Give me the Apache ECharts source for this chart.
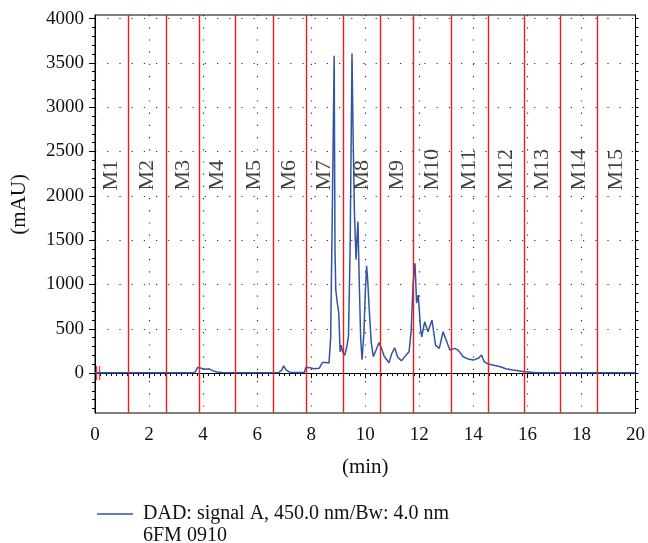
<!DOCTYPE html>
<html>
<head>
<meta charset="utf-8">
<script src="https://cdn.jsdelivr.net/npm/echarts@6/dist/echarts.min.js"></script>
<style>
  html, body { margin: 0; padding: 0; background: #fff; }
  #chart { width: 648px; height: 543px; }
</style>
</head>
<body>
<div id="chart"></div>
<script>
// retention time (min) and absorbance (mAU)
var times = [0, 1, 2, 3, 3.68, 3.74, 3.8, 3.9, 4.0, 4.1, 4.22, 4.35, 4.5, 4.7, 5.5, 6.5, 6.8, 6.9, 6.98, 7.06, 7.2, 7.5, 7.75, 7.8, 7.95, 8.1, 8.3, 8.42, 8.55, 8.66, 8.72, 8.78, 8.85, 8.88, 8.91, 8.97, 9.02, 9.07, 9.11, 9.16, 9.24, 9.32, 9.38, 9.44, 9.51, 9.55, 9.6, 9.66, 9.7, 9.73, 9.78, 9.83, 9.88, 9.95, 10.0, 10.05, 10.09, 10.15, 10.22, 10.3, 10.4, 10.51, 10.6, 10.7, 10.88, 10.98, 11.09, 11.2, 11.34, 11.5, 11.62, 11.7, 11.77, 11.84, 11.9, 11.96, 11.99, 12.05, 12.09, 12.2, 12.32, 12.47, 12.6, 12.74, 12.88, 12.97, 13.03, 13.13, 13.31, 13.44, 13.62, 13.8, 14.0, 14.2, 14.3, 14.4, 14.55, 14.8, 15.0, 15.2, 15.46, 15.9, 16.35, 18, 20];
var signal = [3, 3, 3, 3, 4, 30, 64, 58, 48, 44, 48, 28, 12, 6, 5, 5, 8, 30, 82, 40, 10, 6, 8, 65, 60, 50, 55, 120, 120, 115, 400, 1800, 3580, 1400, 938, 780, 678, 240, 316, 240, 200, 300, 420, 1400, 3605, 2700, 1800, 1280, 1550, 1710, 1000, 400, 150, 450, 900, 1210, 1050, 700, 350, 185, 260, 345, 280, 190, 117, 220, 286, 180, 140, 200, 240, 480, 1010, 1240, 790, 880, 750, 490, 410, 580, 467, 599, 316, 279, 467, 392, 410, 260, 279, 260, 184, 160, 147, 170, 205, 130, 102, 85, 72, 50, 34, 15, 5, 3, 3];

// fraction boundaries (red lines) and their names
var cuts = [1.22, 2.64, 3.87, 5.2, 6.58, 7.8, 9.18, 10.56, 11.77, 13.17, 14.55, 15.88, 17.23, 18.6];
var fractions = ['M1', 'M2', 'M3', 'M4', 'M5', 'M6', 'M7', 'M8', 'M9', 'M10', 'M11', 'M12', 'M13', 'M14', 'M15'];
var labelLevel = 2060;

// injection marks near t = 0
var injTimes = [0.06, 0.17];

var yTicks = [0, 500, 1000, 1500, 2000, 2500, 3000, 3500, 4000];
var yMinor = [];
for (var v = -400; v <= 4000; v += 100) yMinor.push(v);

var serif = '"Liberation Serif", "DejaVu Serif", serif';
var yMin = -450, yMax = 4040;

var chart = echarts.init(document.getElementById('chart'));

var edges = [0].concat(cuts).concat([20]);
var labelData = fractions.map(function (name, i) {
    return { name: name, value: [(edges[i] + edges[i + 1]) / 2, labelLevel] };
});

var injData = [];
injTimes.forEach(function (t) {
    injData.push([t, -80], [t, 80], [t, '-']);
});

var option = {
    backgroundColor: '#ffffff',
    animation: false,
    grid: {
        left: 95, right: 12, top: 15, bottom: 130,
        show: true, borderColor: '#000', borderWidth: 1
    },
    legend: {
        left: 92, top: 499,
        data: ['DAD: signal A, 450.0 nm/Bw: 4.0 nm'],
        icon: 'rect',
        itemWidth: 36, itemHeight: 1.5,
        textStyle: { fontFamily: serif, fontSize: 20, color: '#111', padding: [0, 0, 0, 5] }
    },
    xAxis: {
        type: 'value',
        min: 0, max: 20, interval: 2,
        name: '(min)',
        nameLocation: 'middle',
        nameGap: 44,
        nameTextStyle: { fontFamily: serif, fontSize: 21, color: '#111' },
        axisLine: { lineStyle: { color: '#000', width: 1 } },
        axisTick: { show: true, inside: false, length: 5, lineStyle: { color: '#000' } },
        minorTick: { show: true, splitNumber: 10, length: 3, lineStyle: { color: '#000' } },
        axisLabel: { fontFamily: serif, fontSize: 19, color: '#111', margin: 13 },
        splitLine: { show: true, lineStyle: { color: '#333', width: 1.2, type: [1.2, 11] } }
    },
    yAxis: [{
        type: 'value',
        min: yMin, max: yMax,
        axisLine: { show: true, lineStyle: { color: '#000' } },
        axisTick: { show: true, customValues: yTicks, length: 6, lineStyle: { color: '#000' } },
        axisLabel: {
            customValues: yTicks,
            formatter: function (val) { return String(val); },
            fontFamily: serif, fontSize: 19, color: '#111', margin: 11
        },
        splitLine: { show: true, lineStyle: { color: '#333', width: 1.2, type: [1.2, 11] } }
    }, {
        type: 'value',
        min: yMin, max: yMax,
        position: 'left',
        axisLine: { show: false },
        axisTick: { show: true, customValues: yMinor, length: 3, lineStyle: { color: '#000' } },
        axisLabel: { show: false },
        splitLine: { show: false }
    }, {
        type: 'value',
        min: yMin, max: yMax,
        position: 'right',
        axisLine: { show: true, lineStyle: { color: '#000' } },
        axisTick: { show: true, customValues: yMinor, length: 3, lineStyle: { color: '#000' } },
        axisLabel: { show: false },
        splitLine: { show: false }
    }],
    graphic: [{
        type: 'text',
        left: 9, top: 174,
        rotation: Math.PI / 2,
        style: { text: '(mAU)', font: '21px ' + serif, fill: '#111' }
    }, {
        type: 'text',
        left: 143, top: 526,
        style: { text: '6FM 0910', font: '20px ' + serif, fill: '#111' }
    }],
    series: [{
        name: 'injection',
        type: 'line',
        data: injData,
        showSymbol: false,
        silent: true,
        z: 1,
        itemStyle: { color: '#f04040' },
        lineStyle: { color: '#f04040', width: 1.3 },
        markLine: {
            silent: true,
            symbol: 'none',
            label: { show: false },
            lineStyle: { color: '#f01c1c', width: 1.4, type: 'solid' },
            data: cuts.map(function (c) { return { xAxis: c }; })
        }
    }, {
        name: 'fractions',
        type: 'scatter',
        data: labelData,
        symbolSize: 0,
        silent: true,
        label: {
            show: true,
            position: [0, 0],
            rotate: 90,
            align: 'left',
            verticalAlign: 'middle',
            formatter: function (p) { return p.name; },
            fontFamily: serif, fontSize: 22, color: '#111'
        }
    }, {
        name: 'DAD: signal A, 450.0 nm/Bw: 4.0 nm',
        type: 'line',
        data: times.map(function (t, i) { return [t, signal[i]]; }),
        showSymbol: false,
        symbol: 'none',
        z: 3,
        itemStyle: { color: '#3353a3' },
        lineStyle: { color: '#3353a3', width: 1.5 }
    }]
};

chart.setOption(option);
</script>
</body>
</html>
